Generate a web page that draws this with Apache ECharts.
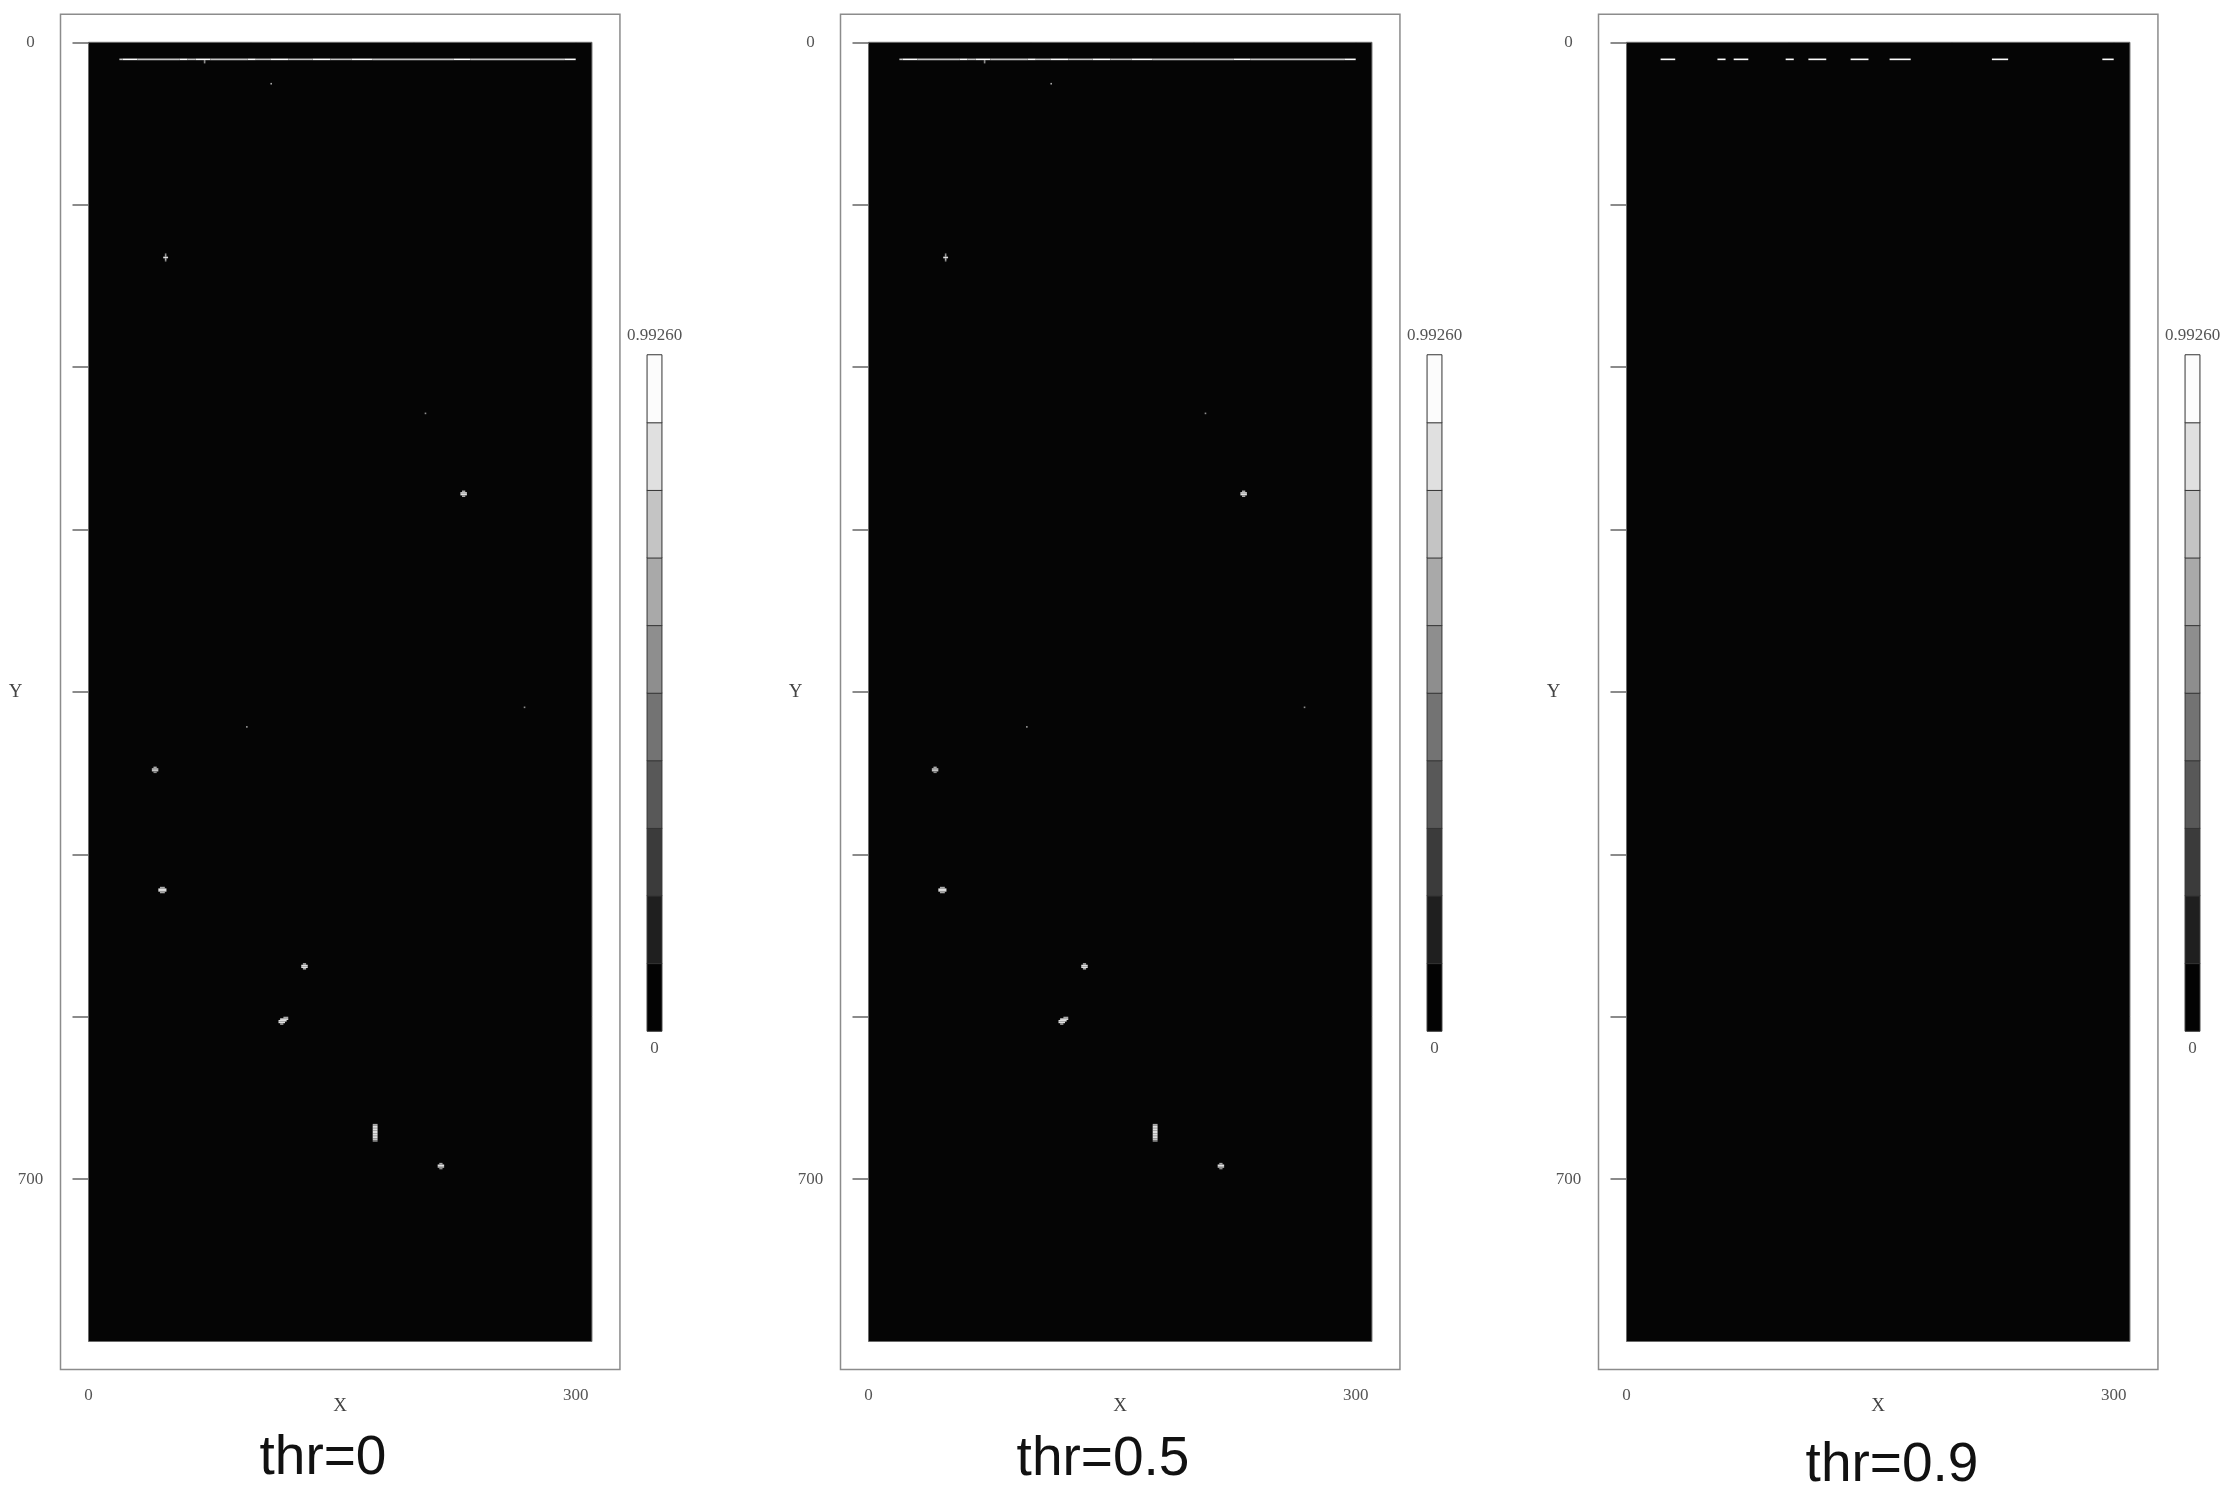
<!DOCTYPE html>
<html>
<head>
<meta charset="utf-8">
<script src="https://cdn.jsdelivr.net/npm/echarts@6/dist/echarts.min.js"></script>
<style>
html, body { margin: 0; padding: 0; background: #fff; }
#map { width: 2232px; height: 1500px; }
</style>
</head>
<body>
<div id="map"></div>
<script>
// image size in pixels
var imgWidth = 310;
var imgHeight = 800;
var thresholds = [0, 0.5, 0.9];
var titles = ['thr=0', 'thr=0.5', 'thr=0.9'];
var xTicks = [0, 100, 200, 300];
var xLabels = [0, 300];
var yTicks = [0, 100, 200, 300, 400, 500, 600, 700];
var yLabels = [0, 700];
var colorMax = 0.99260;
// grey levels of the colour key, low to high
var levelColors = ['#030303', '#1f1f1f', '#3b3b3b', '#585858', '#737373',
	'#8e8e8e', '#a9a9a9', '#c4c4c4', '#e0e0e0', '#fcfcfc'];

// bright pixel runs of the map: [xStart, xEnd, row, value]
var lineRuns = [
	[19, 20, 10, 0.78], [21, 29, 10, 0.95], [30, 55, 10, 0.70], [56, 60, 10, 0.93],
	[61, 65, 10, 0.72], [66, 74, 10, 0.95], [75, 97, 10, 0.74], [98, 102, 10, 0.93],
	[103, 111, 10, 0.70], [112, 122, 10, 0.95], [123, 137, 10, 0.76], [138, 148, 10, 0.95],
	[149, 161, 10, 0.76], [162, 174, 10, 0.96], [175, 224, 10, 0.74], [225, 234, 10, 0.95],
	[235, 292, 10, 0.71], [293, 299, 10, 0.94]
];
var spotRuns = [
	[71, 71, 11, 0.60], [71, 71, 12, 0.55],
	[112, 112, 25, 0.65],
	[47, 47, 130, 0.58], [47, 47, 131, 0.66], [46, 48, 132, 0.86], [47, 47, 133, 0.70], [47, 47, 134, 0.56],
	[207, 207, 228, 0.55],
	[230, 231, 276, 0.60], [229, 232, 277, 0.88], [229, 232, 278, 0.84], [230, 231, 279, 0.60],
	[268, 268, 409, 0.55],
	[97, 97, 421, 0.55],
	[40, 41, 446, 0.60], [39, 42, 447, 0.78], [39, 42, 448, 0.72], [40, 41, 449, 0.58],
	[44, 46, 520, 0.60], [43, 47, 521, 0.82], [43, 47, 522, 0.88], [44, 46, 523, 0.62],
	[132, 133, 567, 0.60], [131, 134, 568, 0.86], [131, 134, 569, 0.80], [132, 133, 570, 0.60],
	[120, 122, 600, 0.62], [118, 122, 601, 0.84], [117, 121, 602, 0.88], [117, 120, 603, 0.80], [118, 119, 604, 0.60],
	[175, 177, 666, 0.60], [175, 177, 667, 0.80], [175, 177, 668, 0.86], [175, 177, 669, 0.86],
	[175, 177, 670, 0.86], [175, 177, 671, 0.86], [175, 177, 672, 0.86], [175, 177, 673, 0.86],
	[175, 177, 674, 0.84], [175, 177, 675, 0.78], [175, 177, 676, 0.58],
	[216, 217, 690, 0.60], [215, 218, 691, 0.82], [215, 218, 692, 0.76], [216, 217, 693, 0.58]
];

var allRuns = lineRuns.concat(spotRuns);
var step = colorMax / levelColors.length;
var pieces = levelColors.map(function(c, k) {
	var p = { gte: k * step, color: c };
	if (k < levelColors.length - 1) p.lt = (k + 1) * step; else p.lte = colorMax + 1e-6;
	return p;
});
var keyData = levelColors.map(function(c, k) {
	return [0, k, (k + 0.5) * step];
});

var panelOffsets = [0, 780, 1538];
var titlePos = [[323, 1459], [1103, 1460], [1892, 1466]];
var px = 1.624; // screen pixels per image pixel
var pad = 28 / px;
var serif = 'Liberation Serif';
var labelStyle = { fontFamily: serif, fontSize: 17, color: '#555' };
var nameStyle = { fontFamily: serif, fontSize: 19, color: '#444' };

var grids = [], xAxes = [], yAxes = [], series = [], graphics = [];
var runSeries = [], keySeries = [];

thresholds.forEach(function(thr, i) {
	var off = panelOffsets[i];
	var g = grids.length;
	grids.push({
		left: 60.5 + off, top: 14.3,
		width: (imgWidth + 2 * pad) * px, height: (imgHeight + 2 * pad) * px,
		show: true, borderColor: '#8c8c8c', borderWidth: 1.5, backgroundColor: 'transparent'
	});
	grids.push({ left: 647.3 + off, top: 355, width: 14.4, height: 676 });

	var mx = xAxes.length;
	xAxes.push({
		gridIndex: g, type: 'value', min: -pad, max: imgWidth + pad,
		axisLine: { show: false }, splitLine: { show: false },
		axisTick: { show: true, customValues: xTicks, length: 15, lineStyle: { color: '#666', width: 1.5 } },
		axisLabel: { customValues: xLabels, margin: 18, fontFamily: serif, fontSize: 17, color: '#555' },
		name: 'X', nameLocation: 'middle', nameGap: 27, nameMoveOverlap: false, nameTextStyle: nameStyle
	});
	var my = yAxes.length;
	yAxes.push({
		gridIndex: g, type: 'value', inverse: true, min: -pad, max: imgHeight + pad,
		axisLine: { show: false }, splitLine: { show: false },
		axisTick: { show: true, customValues: yTicks, length: 16, lineStyle: { color: '#666', width: 1.5 } },
		axisLabel: { customValues: yLabels, margin: 30, align: 'center', fontFamily: serif, fontSize: 17, color: '#555' },
		name: 'Y', nameLocation: 'middle', nameRotate: 0, nameGap: 38, nameMoveOverlap: false, nameTextStyle: nameStyle
	});

	// colour key
	var kx = xAxes.length;
	xAxes.push({
		gridIndex: g + 1, type: 'category', data: ['k'], position: 'bottom',
		axisLine: { show: false }, axisTick: { show: false }, axisLabel: { show: false },
		name: '0', nameLocation: 'middle', nameGap: 9, nameTextStyle: labelStyle
	});
	xAxes.push({
		gridIndex: g + 1, type: 'category', data: ['k'], position: 'top',
		axisLine: { show: false }, axisTick: { show: false }, axisLabel: { show: false },
		name: colorMax.toFixed(5), nameLocation: 'middle', nameGap: 11, nameTextStyle: labelStyle
	});
	var ky = yAxes.length;
	yAxes.push({
		gridIndex: g + 1, type: 'category', data: levelColors.map(function(c, k) { return k; }),
		axisLine: { show: false }, axisTick: { show: false }, axisLabel: { show: false }
	});

	// black image background
	series.push({
		type: 'scatter', xAxisIndex: mx, yAxisIndex: my, data: [], z: 1, silent: true,
		markArea: {
			silent: true,
			label: { show: false },
			itemStyle: { color: '#050505', opacity: 1, borderColor: '#6a6a6a', borderWidth: 1 },
			data: [[{ coord: [0, 0] }, { coord: [imgWidth, imgHeight] }]]
		}
	});
	runSeries.push(series.length);
	series.push({
		type: 'custom', xAxisIndex: mx, yAxisIndex: my, z: 3, silent: true,
		encode: { x: [0, 1], y: 2 },
		data: allRuns.filter(function(r) { return r[3] > thr; }),
		renderItem: function(params, api) {
			var p0 = api.coord([api.value(0), api.value(2)]);
			var p1 = api.coord([api.value(1) + 1, api.value(2) + 1]);
			return {
				type: 'rect',
				shape: { x: p0[0], y: p0[1], width: p1[0] - p0[0], height: p1[1] - p0[1] },
				style: { fill: api.visual('color') }
			};
		}
	});
	keySeries.push(series.length);
	series.push({
		type: 'heatmap', xAxisIndex: kx, yAxisIndex: ky, silent: true,
		itemStyle: { borderColor: '#333', borderWidth: 1 },
		data: keyData
	});

	graphics.push({
		type: 'text', x: titlePos[i][0], y: titlePos[i][1],
		style: {
			text: titles[i], fontFamily: 'Liberation Sans', fontSize: 55, fill: '#111',
			align: 'center', verticalAlign: 'middle'
		}
	});
});

var chart = echarts.init(document.getElementById('map'));
chart.setOption({
	backgroundColor: '#fff',
	animation: false,
	grid: grids,
	xAxis: xAxes,
	yAxis: yAxes,
	visualMap: [{
		type: 'piecewise', show: false, dimension: 3, seriesIndex: runSeries, pieces: pieces
	}, {
		type: 'piecewise', show: false, dimension: 2, seriesIndex: keySeries, pieces: pieces
	}],
	graphic: graphics,
	series: series
});
</script>
</body>
</html>
